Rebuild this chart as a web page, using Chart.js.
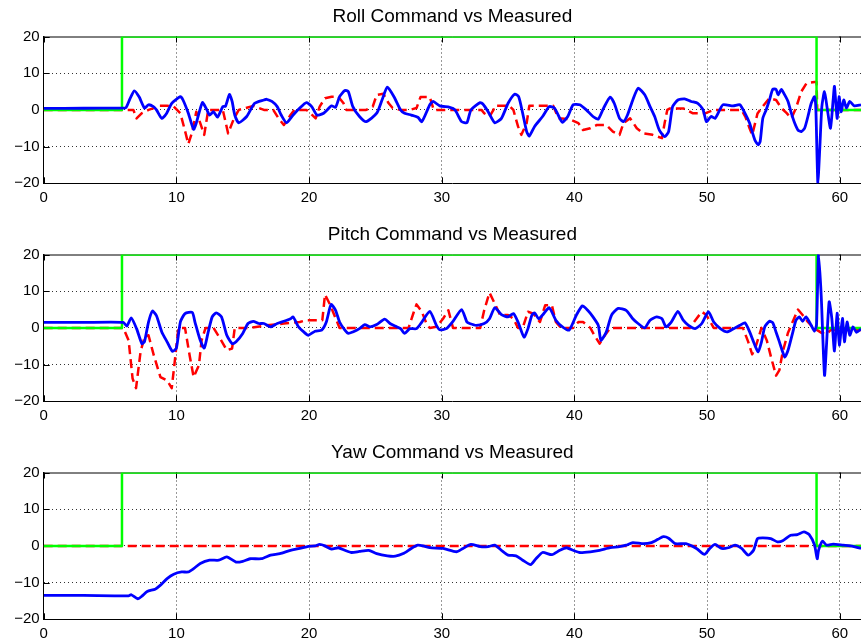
<!DOCTYPE html>
<html>
<head>
<meta charset="utf-8">
<script src="https://cdn.jsdelivr.net/npm/chart.js@4.4.1/dist/chart.umd.min.js"></script>
<style>
  html, body { margin: 0; padding: 0; background: #fff; }
  body { width: 861px; height: 644px; position: relative; overflow: hidden; }
  canvas { position: absolute; left: 0; }
</style>
</head>
<body>
<canvas id="roll" width="861" height="208" style="top:0px"></canvas>
<canvas id="pitch" width="861" height="208" style="top:218px"></canvas>
<canvas id="yaw" width="861" height="208" style="top:436px"></canvas>
<script>
// axis setup
const xTicks = [0, 10, 20, 30, 40, 50, 60];
const yTicks = [-20, -10, 0, 10, 20];
const xMax = 61.6;
const titles = ["Roll Command vs Measured", "Pitch Command vs Measured", "Yaw Command vs Measured"];

// green: controller enabled (same in all three plots)
const enableSignal = [[0, 0], [5.9, 0], [5.9, 20], [58.25, 20], [58.25, 0], [61.6, 0]];

// roll [time, deg]
const rollMeasured = [
  [0, 0.4], [3, 0.45], [5.9, 0.5], [6.2, 0.6], [6.5, 3], [6.83, 5.2], [7.2, 3.5], [7.6, 0.5],
  [7.9, 1.4], [8.27, 0.9], [8.5, 0], [8.9, -2.3], [9.27, -0.9], [9.65, 1.8], [10.3, 3.6], [10.5, 2.7],
  [10.9, -0.9], [11.3, -5.3], [11.5, -3.6], [11.96, 2], [12.3, 0], [12.5, -1.4], [12.8, -0.5], [13.1, -2],
  [13.5, 0.9], [13.7, 1], [14.0, 4.2], [14.2, 2.3], [14.4, -1.4], [14.7, -3.5], [15.3, -1.8], [15.9, 1.8],
  [16.6, 2.7], [16.8, 2.9], [17.2, 2.3], [17.6, 0.9], [17.9, -1.4], [18.3, -3.5], [18.8, -1.4], [19.3, 0.5],
  [19.8, 2], [20.2, 0.9], [20.6, -1.4], [21.1, -0.9], [21.7, 1.1], [22.0, 0.7], [22.3, 3.6], [22.7, 5.3],
  [22.96, 5], [23.3, 0.9], [23.8, -1.8], [24.3, -3.2], [25.1, -0.9], [25.5, 2.7], [25.9, 6.2], [26.4, 3.6],
  [26.9, 0], [27.2, -0.9], [27.7, -1.4], [28.2, -2], [28.5, -3.2], [29.1, 1.4], [29.35, 2.3], [29.85, 1.1],
  [30.6, 0.7], [31.0, 0], [31.5, -3.2], [31.9, -3.5], [32.2, 0], [32.9, 2], [33.1, 1.6], [33.5, -0.5],
  [34.0, -3.5], [34.5, -2.3], [35.0, 1.8], [35.5, 4.3], [35.8, 3.6], [36.1, -0.9], [36.4, -5.9], [36.6, -7.1],
  [37.0, -4.5], [37.6, -1.8], [38.1, 0.9], [38.5, 0.5], [38.9, -2.3], [39.1, -3.4], [39.5, -1.8], [39.9, 1.4],
  [40.4, 1.4], [40.9, 0], [41.4, -1.8], [41.8, -2.5], [42.2, 0.5], [42.7, 3.5], [43.0, 1.8], [43.4, -2.3],
  [43.7, -3.2], [44.0, -1.4], [44.4, 2.7], [44.8, 5.9], [45.3, 4.1], [45.7, 0.9], [46.05, -1.8], [46.4, -5.5],
  [46.8, -7.3], [47.1, -5.9], [47.4, 0.9], [47.8, 2.7], [48.3, 3], [48.8, 2.3], [49.3, 1.8], [49.7, 0],
  [49.95, -3.2], [50.3, -1.8], [50.6, -2.3], [50.95, 0], [51.2, 1.4], [51.96, 1.1], [52.47, 1.4], [52.85, -0.9],
  [53.2, -3.6], [53.6, -8.2], [53.85, -9.5], [54.0, -8.6], [54.2, -2.3], [54.45, 0], [54.7, 2.7], [54.95, 5.6],
  [55.2, 5.6], [55.35, 4.1], [55.6, 5.6], [55.85, 4.1], [56.1, 2.3], [56.35, -0.9], [56.6, -3.6], [56.85, -5.5],
  [57.1, -5.9], [57.35, -5], [57.6, -1.8], [57.85, 1.8], [58.1, 3.6], [58.2, 0], [58.35, -20], [58.5, -10],
  [58.65, 0.9], [58.85, 5], [59.05, 0.5], [59.3, -5], [59.5, 2.7], [59.6, 6.4], [59.8, -2.3], [59.95, 3.6],
  [60.1, -0.5], [60.3, 2.7], [60.5, 0.5], [60.75, 2.3], [61.1, 1.1], [61.6, 1.4]
];
const rollCommand = [
  [0, 0], [6.76, 0], [7.0, -2.3], [7.4, -0.9], [7.9, 0], [8.3, 0.5], [8.5, 1.1], [9.3, 1.1],
  [9.8, 0.9], [10.3, -0.9], [10.7, -6.4], [10.9, -9.3], [11.2, -5.9], [11.5, -0.5], [11.8, -3.6], [12.1, -6.8],
  [12.4, 0], [13.5, 0], [13.9, -6.4], [14.3, -2.7], [14.7, 0], [15.2, 0.5], [15.8, 1.1], [16.6, 0],
  [17.3, 0], [17.7, -2.3], [18.1, -4.1], [18.6, -1.4], [18.9, 0], [19.8, 0], [20.1, -0.9], [20.5, -2.3],
  [20.8, 0.9], [21.2, 3.2], [21.7, 3.6], [22.2, 3.6], [22.6, 1.8], [22.8, 0], [24.3, 0], [24.8, 0.9],
  [25.1, 4.1], [25.6, 4.4], [26.0, 1.8], [26.3, 0.5], [26.9, 0], [27.6, 0], [28.1, 0.5], [28.4, 3.5],
  [29.1, 3.5], [29.4, 0], [33.0, 0], [33.2, -0.9], [33.6, -1.8], [33.9, 0], [34.0, 1.1], [35.1, 1.1],
  [35.4, 0], [35.75, -4.5], [36.0, -6.8], [36.4, -3.6], [36.6, 1.1], [38.4, 1.1], [38.8, -2.3], [39.6, -2.5],
  [40.3, -3.6], [40.65, -5.5], [41.2, -5], [41.7, -4.1], [42.4, -4.1], [42.9, -5.9], [43.4, -6.8], [43.7, -3.6],
  [44.2, -2.3], [44.7, -5], [45.2, -6.4], [45.9, -6.8], [46.6, -7.7], [46.8, -3.6], [47.0, 0], [47.2, 0.4],
  [48.2, 0.4], [48.9, -0.9], [49.9, -0.9], [50.5, 0], [52.6, 0], [52.9, -2], [53.2, -5], [53.4, -6.8],
  [53.8, -1], [54.1, 0.5], [54.7, 3.2], [55.2, 2.7], [55.6, 0.5], [56.0, -0.9], [56.35, -2.3], [56.7, 0.5],
  [57.1, 5], [57.5, 7.3], [58.1, 7.6], [58.25, 7.6], [58.3, 0], [61.6, 0]
];

// pitch [time, deg]
const pitchMeasured = [
  [0, 1.5], [3, 1.5], [6.0, 1.5], [6.26, 0.5], [6.6, 2.7], [7.0, -0.2], [7.4, -4.3], [7.6, -3.7],
  [7.9, 1.6], [8.2, 4.6], [8.5, 3.3], [8.9, -1.1], [9.3, -3.8], [9.7, -6.4], [10.0, -5.5], [10.3, 1.6],
  [10.65, 3.9], [11.2, 4.2], [11.4, 1.6], [11.8, -3.4], [12.1, -5.5], [12.4, -1.1], [12.7, 3], [13.0, 4.1],
  [13.4, 3], [13.8, -2], [14.2, -4.3], [14.5, -3.8], [15.0, -1.5], [15.4, 1.2], [15.8, 1.8], [16.2, 1.2],
  [16.6, 1.2], [17.1, 0.3], [17.6, 1.2], [18.1, 1.8], [18.6, 2.5], [18.8, 3], [19.2, 0.3], [19.6, -1.1],
  [19.95, -2], [20.45, -0.9], [20.95, -0.6], [21.3, 1.6], [21.66, 6.4], [22.0, 4.8], [22.3, 1.6], [22.7, -0.6],
  [22.96, -1.5], [23.3, -1.1], [23.8, -0.2], [24.2, 0.9], [24.6, 0.3], [25.1, 0.9], [25.7, 2.4], [26.1, 1.2],
  [26.5, 0.5], [26.9, -0.2], [27.2, -1.5], [27.6, -0.2], [28.1, -0.2], [28.5, 1.6], [29.1, 4.5], [29.6, 0.7],
  [29.85, -0.5], [30.35, -0.2], [30.85, 1.8], [31.5, 5], [31.9, 1.6], [32.1, 1.2], [32.6, 0.7], [33.2, 1.2],
  [33.6, 2.5], [34.0, 5.5], [34.5, 3.6], [35.0, 3], [35.4, 3.9], [35.75, 1.6], [36.2, -2.5], [36.5, -0.2],
  [36.8, 3.5], [37.0, 4.1], [37.3, 2.5], [37.6, 3.5], [38.1, 5.5], [38.6, 2.1], [39.1, 0.3], [39.6, -0.6],
  [40.15, 3.5], [40.6, 6], [41.0, 4.8], [41.4, 3], [41.8, 0.7], [42.0, -3.4], [42.4, -1.1], [42.8, 3.5],
  [43.3, 5.3], [43.9, 4.8], [44.4, 2.5], [44.8, 1.2], [45.3, 0], [45.7, 2.1], [46.2, 3], [46.6, 2.5],
  [46.9, 0.3], [47.3, 1.6], [47.8, 4.5], [48.2, 2.1], [48.6, 0.7], [49.1, -0.2], [49.6, 1.2], [50.1, 4.4],
  [50.5, 1.6], [51.0, -0.2], [51.5, -1.1], [52.0, -0.2], [52.47, 0.7], [52.85, 1.4], [53.2, -1], [53.6, -4.7],
  [53.85, -6.5], [54.1, -3.8], [54.35, 0.3], [54.7, 1.8], [54.95, 1.4], [55.2, -1.2], [55.45, -3.8], [55.85, -7.9],
  [56.1, -6.1], [56.5, -0.6], [56.7, 2.1], [56.95, 3], [57.2, 1.8], [57.45, 3], [57.85, 0.7], [58.1, -0.9],
  [58.25, 1], [58.4, 20], [58.6, 8.9], [58.85, -12.9], [59.0, -4.7], [59.2, 7.1], [59.4, 2.6], [59.6, -6.3],
  [59.8, 4], [59.97, -4.7], [60.2, 2.6], [60.35, -3.8], [60.55, 1.6], [60.75, -2], [61.0, 0.3], [61.25, -1.2],
  [61.6, -0.3]
];
const pitchCommand = [
  [0, 0], [6.0, 0], [6.4, -3.4], [6.7, -13.8], [6.96, -16.4], [7.3, -6.5], [7.6, -2.5], [7.9, -2],
  [8.3, -7.5], [8.8, -13.4], [9.3, -14.3], [9.65, -16.4], [9.9, -8.4], [10.15, 0], [10.65, 0], [11.0, -7.5],
  [11.3, -13.4], [11.7, -10.2], [11.9, -3.4], [12.2, 0], [12.8, 0], [13.3, -2.9], [13.8, -6.1], [14.2, -5.6],
  [14.4, 0], [15.55, 0], [16.8, 0.7], [18.1, 1.2], [19.3, 1.6], [19.8, 2.1], [21.0, 2.1], [21.2, 9.1],
  [21.6, 6.2], [21.8, 4.4], [22.3, 0], [27.5, 0], [27.9, 4.4], [28.1, 6.4], [28.5, 4.4], [28.9, 0.7],
  [29.1, 0], [29.6, 0.3], [30.1, 2.5], [30.5, 4.8], [30.85, 0], [32.9, 0], [33.2, 4.8], [33.6, 9.6],
  [34.0, 6.6], [34.4, 3.5], [35.0, 3.5], [35.4, 2.5], [35.75, 0], [36.1, 0], [36.5, 4.4], [36.9, 3.9],
  [37.4, 1.6], [37.8, 6.2], [38.3, 6.2], [38.6, 1.6], [39.0, 0], [39.9, 0], [40.3, 1.6], [40.65, 1.6],
  [41.2, 0], [41.5, -2], [41.9, -4.3], [42.3, -2], [42.7, 0], [48.7, 0], [49.2, 2.5], [49.6, 4.4],
  [49.95, 3.5], [50.5, 0], [52.7, 0], [53.1, -3.8], [53.4, -7.2], [53.7, -4.7], [54.1, 0], [54.5, -3.4],
  [54.85, -8.4], [55.2, -13], [55.45, -11.5], [55.7, -6.5], [56.1, -1.3], [56.5, 2.1], [56.85, 5], [57.2, 3.5],
  [57.6, 1.6], [58.0, 0], [58.3, -0.6], [58.6, -1.3], [59.0, -1.7], [59.3, -0.6], [61.6, -0.6]
];

// yaw [time, deg]
const yawMeasured = [
  [0, -13.5], [3, -13.5], [6.4, -13.6], [6.6, -13.3], [7.1, -14.4], [7.4, -13.7], [7.8, -12.4], [8.4, -11.8],
  [8.8, -10.7], [9.3, -8.9], [9.8, -7.7], [10.4, -7.1], [10.9, -7.1], [11.3, -6.2], [11.8, -4.8], [12.5, -3.9],
  [13.2, -3.9], [13.8, -3], [14.5, -4.4], [15.0, -4.2], [15.55, -3.5], [16.4, -3.5], [17.1, -2.5], [17.8, -2.1],
  [18.6, -1.2], [19.3, -0.7], [19.95, -0.1], [20.45, 0], [20.8, 0.4], [21.2, 0], [21.7, -0.9], [22.2, -0.5],
  [22.7, -1.2], [23.2, -1.8], [23.8, -1.5], [24.5, -1.2], [25.1, -2.1], [25.9, -2.7], [26.5, -2.8], [27.1, -2.1],
  [27.7, -0.7], [28.2, 0.2], [28.6, 0], [29.1, -0.5], [30.1, -0.7], [31.1, -1.6], [31.6, -0.7], [32.2, 0.4],
  [32.9, -0.2], [33.5, -0.2], [34.0, 0.2], [34.5, -1.2], [35.0, -2.5], [35.6, -2.7], [36.1, -3.9], [36.7, -5.1],
  [37.1, -3.5], [37.6, -1.8], [38.3, -2.4], [38.9, -1.2], [39.4, -0.5], [39.9, -1.2], [40.4, -1.8], [41.2, -1.6],
  [41.9, -1.2], [42.7, -0.5], [43.4, -0.2], [43.9, 0.2], [44.4, 0.9], [45.2, 0.6], [45.8, 0.9], [46.3, 1.8],
  [46.7, 2.5], [47.1, 2.1], [47.6, 0.6], [48.4, 0.6], [49.2, -0.7], [49.8, -2.3], [50.2, -0.7], [50.6, 0.4],
  [51.1, -0.7], [51.6, -0.5], [52.1, 0.2], [52.6, -0.7], [53.1, -2.5], [53.5, -1.2], [53.8, 2], [54.2, 2.2],
  [54.8, 2], [55.3, 1.1], [55.7, 1.4], [56.3, 2.9], [56.8, 3.1], [57.3, 3.8], [57.7, 3.1], [58.1, 0.2],
  [58.3, -3.5], [58.4, -1.2], [58.7, 1.3], [59.0, 0.2], [59.5, 0.5], [60.25, 0.2], [61.0, -0.1], [61.6, -0.7]
];
const yawCommand = [[0, 0], [61.6, 0]];

const FONT = "'Liberation Sans', Arial, Helvetica, sans-serif";

function toXY(list) {
  return list.map((p) => ({ x: p[0], y: p[1] }));
}

// box on top and inward tick marks like the original plot
const boxPlugin = {
  id: "box",
  beforeDatasetsDraw(chart) {
    const { ctx, chartArea, scales } = chart;
    ctx.save();
    ctx.strokeStyle = "#000";
    ctx.lineWidth = 1;
    ctx.beginPath();
    ctx.moveTo(chartArea.left, chartArea.top + 0.5);
    ctx.lineTo(chartArea.right, chartArea.top + 0.5);
    xTicks.forEach((v) => {
      const px = Math.round(scales.x.getPixelForValue(v)) + 0.5;
      ctx.moveTo(px, chartArea.bottom);
      ctx.lineTo(px, chartArea.bottom - 6);
      ctx.moveTo(px, chartArea.top);
      ctx.lineTo(px, chartArea.top + 6);
    });
    yTicks.forEach((v) => {
      const py = Math.round(scales.y.getPixelForValue(v)) + 0.5;
      ctx.moveTo(chartArea.left, py);
      ctx.lineTo(chartArea.left + 6, py);
    });
    ctx.stroke();
    ctx.restore();
  },
};

function makeChart(id, title, measured, command) {
  const edge = (v, lo, hi) => v <= lo || v >= hi;
  new Chart(document.getElementById(id), {
    type: "line",
    data: {
      datasets: [
        { data: toXY(measured), borderColor: "#0000ff", borderWidth: 2.8, tension: 0.2 },
        { data: toXY(enableSignal), borderColor: "#00ff00", borderWidth: 2.5, tension: 0 },
        { data: toXY(command), borderColor: "#ff0000", borderWidth: 2.5, borderDash: [9, 5], tension: 0 },
      ],
    },
    options: {
      responsive: false,
      animation: false,
      devicePixelRatio: 1,
      layout: { padding: 0 },
      elements: { point: { radius: 0 }, line: { borderJoinStyle: "round" } },
      plugins: {
        legend: { display: false },
        tooltip: { enabled: false },
        title: {
          display: true,
          fullSize: false,
          text: title,
          color: "#000",
          font: { family: FONT, size: 19, weight: "normal", lineHeight: 1.2 },
          padding: { top: 5, bottom: 8.7 },
        },
      },
      scales: {
        x: {
          type: "linear",
          min: 0,
          max: xMax,
          afterBuildTicks: (s) => {
            s.ticks = xTicks.map((v) => ({ value: v }));
          },
          afterFit: (s) => {
            s.height = 24.7;
          },
          grid: {
            drawTicks: false,
            color: (c) => (c.tick && edge(c.tick.value, 0, xMax) ? "rgba(0,0,0,0)" : "#333"),
          },
          border: { display: true, color: "#000", width: 1, dash: [1, 3] },
          ticks: { color: "#000", padding: 6, maxRotation: 0, font: { family: FONT, size: 15 } },
        },
        y: {
          min: -20,
          max: 20,
          afterBuildTicks: (s) => {
            s.ticks = yTicks.map((v) => ({ value: v }));
          },
          afterFit: (s) => {
            s.width = 43.7;
          },
          grid: {
            drawTicks: false,
            color: (c) => (c.tick && edge(c.tick.value, -20, 20) ? "rgba(0,0,0,0)" : "#333"),
          },
          border: { display: true, color: "#000", width: 1, dash: [1, 3] },
          ticks: {
            color: "#000",
            padding: 4,
            font: { family: FONT, size: 15 },
            callback: (v) => String(v).replace("-", "\u2212"),
          },
        },
      },
    },
    plugins: [boxPlugin],
  });
}

makeChart("roll", titles[0], rollMeasured, rollCommand);
makeChart("pitch", titles[1], pitchMeasured, pitchCommand);
makeChart("yaw", titles[2], yawMeasured, yawCommand);
</script>
</body>
</html>
